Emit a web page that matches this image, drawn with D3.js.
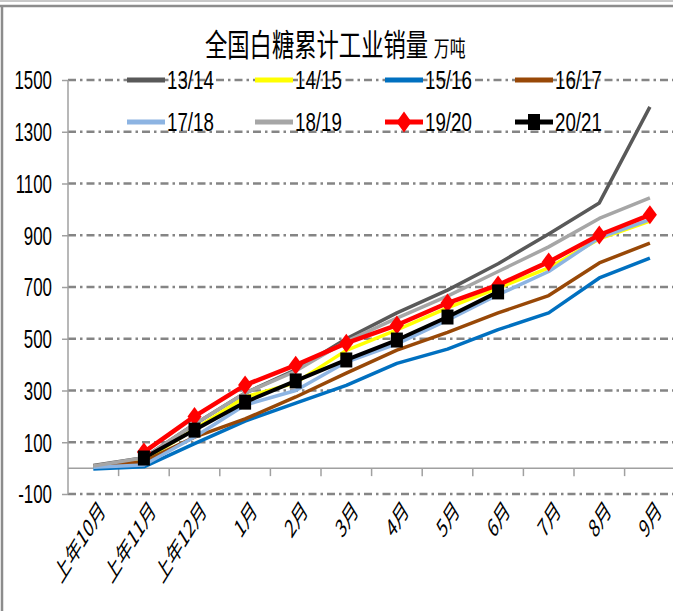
<!DOCTYPE html>
<html><head><meta charset="utf-8">
<script src="https://cdn.jsdelivr.net/npm/d3@7"></script>
<style>
html,body{margin:0;padding:0;background:#fff;}
svg{display:block;}
</style></head>
<body>
<svg id="c" width="673" height="611"></svg>
<script>
// ---- data ----
const categories = ["上年10月","上年11月","上年12月","1月","2月","3月","4月","5月","6月","7月","8月","9月"];
const seriesNames = ["13/14","14/15","15/16","16/17","17/18","18/19","19/20","20/21"];
const s1314 = [10, 40, 170, 290, 380, 500, 600, 688, 790, 905, 1025, 1396];
const s1415 = [5, 30, 150, 275, 330, 455, 534, 619, 696, 774, 886, 955];
const s1516 = [-3, 5, 95, 182, 251, 320, 405, 460, 535, 600, 735, 812];
const s1617 = [8, 25, 120, 190, 275, 367, 456, 525, 600, 667, 793, 870];
const s1718 = [3, 12, 120, 244, 300, 410, 480, 572, 670, 760, 890, 960];
const s1819 = [8, 40, 170, 290, 375, 490, 580, 665, 760, 855, 965, 1044];
const s1920 = [null, 62, 200, 321, 398, 483, 553, 638, 708, 797, 901, 979];
const s2021 = [null, 39, 147, 255, 337, 418, 495, 584, 681, null, null, null];
const yTicks = [-100, 100, 300, 500, 700, 900, 1100, 1300, 1500];
const titleMain = "全国白糖累计工业销量";
const titleUnit = "万吨";

const seriesValues = [s1314, s1415, s1516, s1617, s1718, s1819, s1920, s2021];
const colors = ["#595959","#FFFF00","#0070C0","#984807","#8DB4E2","#A6A6A6","#FF0000","#000000"];
const widths = [3.5, 3.5, 3.5, 3.5, 3.5, 3.5, 4.5, 4];

const svg = d3.select("#c");

// frame
svg.append("rect").attr("x",0).attr("y",0).attr("width",673).attr("height",2).attr("fill","#c8c8c8");
svg.append("line").attr("x1",0).attr("x2",673).attr("y1",6).attr("y2",6).attr("stroke","#8c8c8c").attr("stroke-width",2.5);
svg.append("line").attr("x1",2).attr("x2",2).attr("y1",5).attr("y2",611).attr("stroke","#8c8c8c").attr("stroke-width",2.5);

// scales
const x = d3.scaleBand().domain(categories).range([68, 675.2]).padding(0);
const y = d3.scaleLinear().domain([-100, 1500]).range([494, 80]);
const cx = c => x(c) + x.bandwidth()/2;

// gridlines
svg.append("g").selectAll("line").data(yTicks).join("line")
  .attr("x1", 68).attr("x2", 673)
  .attr("y1", d => y(d)).attr("y2", d => y(d))
  .attr("stroke", "#858585").attr("stroke-width", 2.5)
  .attr("stroke-dasharray", "8,4,2.5,4");

// y axis
const yAxis = d3.axisLeft(y).tickValues(yTicks).tickSize(6).tickFormat("");
const ya = svg.append("g").attr("transform","translate(68,0)").call(yAxis);
ya.selectAll("path,line").attr("stroke","#a0a0a0").attr("stroke-width",1.5);
ya.select(".domain").attr("d","M0,80V494");
svg.append("g").selectAll("text").data(yTicks).join("text")
  .attr("transform", d => `translate(52,${y(d)}) scale(0.65,1)`)
  .attr("text-anchor","end").attr("dy","0.36em")
  .attr("font-family","'Liberation Sans', Arial, sans-serif").attr("font-size",26)
  .attr("fill","#000").text(d => d);

// x axis (at zero)
const xa = svg.append("g").attr("transform",`translate(0,${y(0)})`);
xa.append("line").attr("x1",68).attr("x2",673).attr("y1",0).attr("y2",0)
  .attr("stroke","#a0a0a0").attr("stroke-width",1.5);
xa.selectAll("line.tk").data(categories.slice(1)).join("line").attr("class","tk")
  .attr("x1", d => x(d)).attr("x2", d => x(d)).attr("y1",0).attr("y2",8)
  .attr("stroke","#a0a0a0").attr("stroke-width",1.5);
svg.append("g").selectAll("text").data(categories).join("text")
  .attr("transform", d => `translate(${cx(d)+5},499) scale(0.62,1) rotate(-45)`)
  .attr("text-anchor","end").attr("dy","0.72em")
  .attr("font-family","'Noto Sans CJK SC', 'Liberation Sans', sans-serif").attr("font-size",25)
  .attr("fill","#000").text(d => d);

// lines
const line = d3.line().defined(d => d.v !== null).x(d => cx(d.c)).y(d => y(d.v));
seriesValues.forEach((vals, i) => {
  const pts = categories.map((c, j) => ({c, v: vals[j]}));
  svg.append("path").datum(pts).attr("d", line)
    .attr("fill","none").attr("stroke", colors[i]).attr("stroke-width", widths[i])
    .attr("stroke-linejoin","round");
});

const diamond = (px, py, hw, hh) => `M${px},${py-hh}L${px+hw},${py}L${px},${py+hh}L${px-hw},${py}Z`;
// markers 19/20
svg.append("g").selectAll("path").data(categories.map((c,j)=>({c,v:s1920[j]})).filter(d=>d.v!==null)).join("path")
  .attr("d", d => diamond(cx(d.c), y(d.v), 7, 9.5)).attr("fill","#FF0000");
// markers 20/21
svg.append("g").selectAll("rect").data(categories.map((c,j)=>({c,v:s2021[j]})).filter(d=>d.v!==null)).join("rect")
  .attr("x", d => cx(d.c)-6).attr("y", d => y(d.v)-7.5).attr("width",12).attr("height",15).attr("fill","#000");

// title
const t = svg.append("text").attr("transform",`translate(205,56) scale(0.72,1)`)
  .attr("font-family","'Noto Sans CJK SC', sans-serif").attr("fill","#000");
t.append("tspan").attr("font-size",31).text(titleMain);
t.append("tspan").attr("font-size",22).attr("dx",8).text(titleUnit);

// legend
const legX = [127, 255, 385, 515];
const legY = [80, 122];
seriesNames.forEach((n, i) => {
  const lx = legX[i % 4], ly = legY[Math.floor(i / 4)];
  const g = svg.append("g");
  g.append("line").attr("x1", lx).attr("x2", lx+38).attr("y1", ly).attr("y2", ly)
    .attr("stroke", colors[i]).attr("stroke-width", 5);
  if (i === 6) g.append("path").attr("d", diamond(lx+19, ly, 7.5, 10.5)).attr("fill", colors[i]);
  if (i === 7) g.append("rect").attr("x", lx+13).attr("y", ly-8).attr("width",12).attr("height",16).attr("fill", colors[i]);
  g.append("text").attr("transform", `translate(${lx+40},${ly}) scale(0.72,1)`)
    .attr("dy","0.36em").attr("font-family","'Liberation Sans', Arial, sans-serif")
    .attr("font-size",26).attr("fill","#000").text(n);
});
</script>
</body></html>
